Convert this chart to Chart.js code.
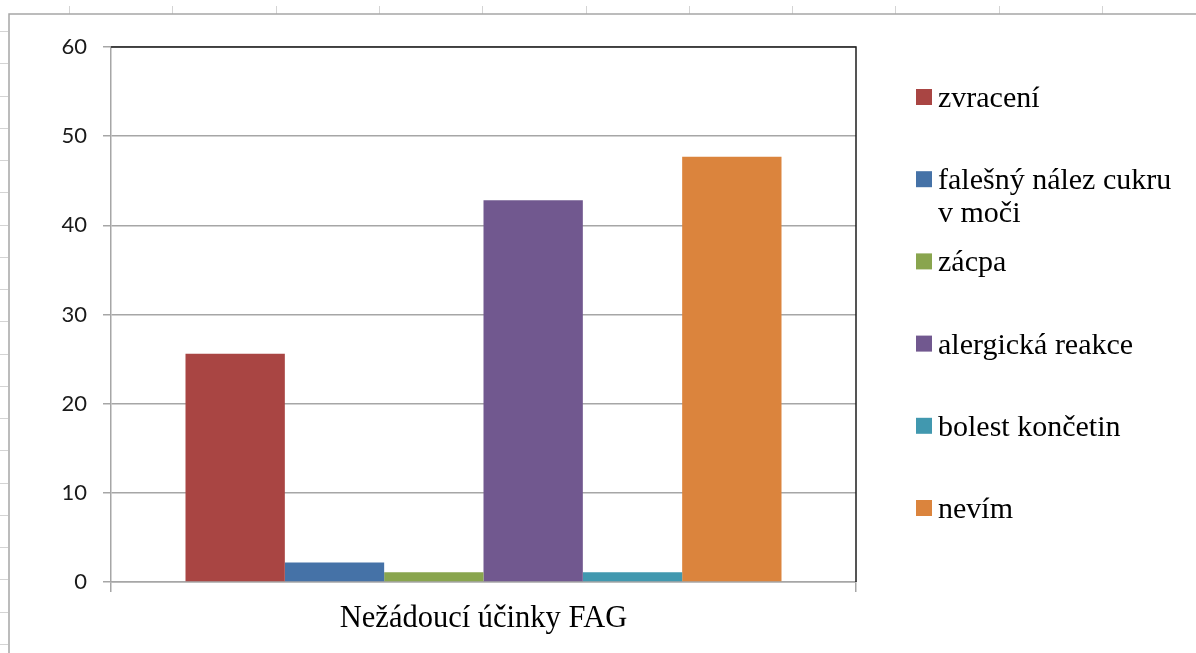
<!DOCTYPE html>
<html lang="cs">
<head>
<meta charset="utf-8">
<title>Nežádoucí účinky FAG</title>
<script src="https://cdn.jsdelivr.net/npm/chart.js@4.4.1/dist/chart.umd.min.js"></script>
<style>
  html, body { margin: 0; padding: 0; background: #fff; overflow: hidden; }
  canvas { display: block; }
</style>
</head>
<body>
<canvas id="chart-fag" width="1196" height="653"></canvas>
<script>
// kategorie na ose x (jen jedna skupina sloupců)
const categories = ['Nežádoucí účinky FAG'];
// názvy řad, \n zalomí popisek v legendě
const seriesNames = ['zvracení', 'falešný nález cukru\nv moči', 'zácpa', 'alergická reakce', 'bolest končetin', 'nevím'];
const seriesValues = [25.6, 2.2, 1.1, 42.8, 1.1, 47.7];
const seriesColors = ['#a94543', '#4572a7', '#89a54e', '#71588f', '#4198af', '#db843d'];
const yTicks = [0, 10, 20, 30, 40, 50, 60];

// rámeček listu a značky mřížky buněk kolem grafu
const sheetFrame = {
    id: 'sheetFrame',
    beforeDraw(chart) {
        const ctx = chart.ctx;
        ctx.save();
        ctx.fillStyle = '#fff';
        ctx.fillRect(0, 0, chart.width, chart.height);
        ctx.strokeStyle = '#d4d4d4';
        ctx.lineWidth = 1;
        for (let x = 69; x < chart.width; x += 103.3) {
            ctx.beginPath();
            ctx.moveTo(Math.round(x) + 0.5, 6);
            ctx.lineTo(Math.round(x) + 0.5, 14);
            ctx.stroke();
        }
        for (let y = 31; y < chart.height; y += 32.26) {
            ctx.beginPath();
            ctx.moveTo(0, Math.round(y) + 0.5);
            ctx.lineTo(8, Math.round(y) + 0.5);
            ctx.stroke();
        }
        ctx.strokeStyle = '#a6a6a6';
        ctx.lineWidth = 1.5;
        ctx.beginPath();
        ctx.moveTo(9, chart.height);
        ctx.lineTo(9, 14);
        ctx.lineTo(chart.width, 14);
        ctx.stroke();
        ctx.restore();
    }
};

// horní a pravý okraj vykreslované oblasti
const plotBorder = {
    id: 'plotBorder',
    afterDatasetsDraw(chart) {
        const { ctx, chartArea } = chart;
        ctx.save();
        ctx.strokeStyle = '#1e1e1e';
        ctx.lineWidth = 1.5;
        ctx.beginPath();
        ctx.moveTo(chartArea.left, chartArea.top);
        ctx.lineTo(chartArea.right, chartArea.top);
        ctx.lineTo(chartArea.right, chartArea.bottom);
        ctx.stroke();
        ctx.restore();
    }
};

// legenda vpravo, s víceřádkovými popisky
const sideLegend = {
    id: 'sideLegend',
    afterDraw(chart, args, opts) {
        const ctx = chart.ctx;
        ctx.save();
        ctx.font = opts.font;
        ctx.textBaseline = 'alphabetic';
        chart.data.datasets.forEach((ds, i) => {
            const top = opts.top + i * opts.step;
            ctx.fillStyle = ds.backgroundColor;
            ctx.fillRect(opts.left, top, opts.box, opts.box);
            ctx.fillStyle = opts.color;
            ds.label.split('\n').forEach((line, j) => {
                ctx.fillText(line, opts.left + opts.box + opts.gap, top + opts.baseline + j * opts.lineHeight);
            });
        });
        ctx.restore();
    }
};

const ctxFag = document.getElementById('chart-fag').getContext('2d');
new Chart(ctxFag, {
    type: 'bar',
    data: {
        labels: categories,
        datasets: seriesNames.map((name, i) => ({
            label: name,
            data: [seriesValues[i]],
            backgroundColor: seriesColors[i],
            categoryPercentage: 0.8,
            barPercentage: 1.0
        }))
    },
    options: {
        responsive: false,
        animation: false,
        devicePixelRatio: 1,
        layout: { padding: { left: 9, top: 47, right: 340, bottom: 0 } },
        scales: {
            x: {
                grid: { drawOnChartArea: false, drawTicks: true, tickLength: 10, color: '#a6a6a6', lineWidth: 1.5 },
                border: { color: '#a6a6a6', width: 1.5 },
                ticks: { font: { family: '"Liberation Serif", "Times New Roman", serif', size: 30.5 }, color: '#000', padding: 9 },
                afterFit: (scale) => { scale.height = 71; }
            },
            y: {
                min: yTicks[0],
                max: yTicks[yTicks.length - 1],
                grid: { color: '#a6a6a6', lineWidth: 1.5, tickLength: 8 },
                border: { color: '#a6a6a6', width: 1.5 },
                ticks: {
                    stepSize: yTicks[1] - yTicks[0],
                    font: { family: 'Lato, sans-serif', size: 22 },
                    color: '#1a1a1a',
                    padding: 16
                },
                afterFit: (scale) => { scale.width = 102; }
            }
        },
        plugins: {
            legend: { display: false },
            tooltip: { enabled: false },
            sideLegend: {
                left: 916, top: 89, step: 82.2, box: 16, gap: 6,
                baseline: 18, lineHeight: 33,
                font: '30px "Liberation Serif", "Times New Roman", serif',
                color: '#000'
            }
        }
    },
    plugins: [sheetFrame, plotBorder, sideLegend]
});
</script>
</body>
</html>
